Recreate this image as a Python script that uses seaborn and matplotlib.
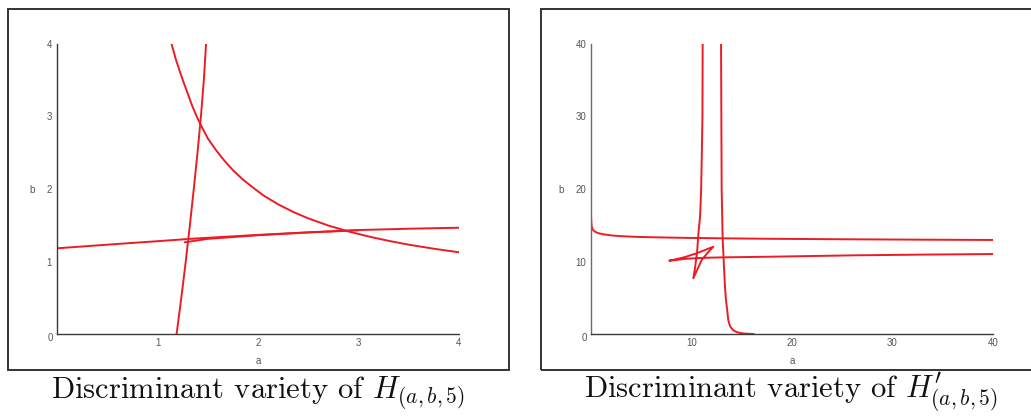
import matplotlib
matplotlib.use("Agg")
import matplotlib.pyplot as plt
from matplotlib.patches import Rectangle
from matplotlib.ticker import MultipleLocator, FuncFormatter
import pandas as pd
import seaborn as sns

# ---------------- data: discriminant curves of H(a,b,5) ----------------
h_arc_a = [1.141, 1.18, 1.22, 1.26, 1.30, 1.35, 1.40, 1.45, 1.50, 1.58,
           1.66, 1.75, 1.85, 1.95, 2.05, 2.20, 2.35, 2.50, 2.70, 2.90,
           3.10, 3.30, 3.50, 3.75, 4.00]
h_arc_b = [3.995, 3.80, 3.63, 3.47, 3.32, 3.13, 2.97, 2.83, 2.70, 2.54,
           2.40, 2.26, 2.13, 2.02, 1.915, 1.789, 1.684, 1.595, 1.496, 1.415,
           1.345, 1.285, 1.232, 1.176, 1.127]

h_steep_a = [1.190, 1.237, 1.281, 1.322, 1.361, 1.398, 1.432, 1.461, 1.483]
h_steep_b = [0.000, 0.500, 1.000, 1.500, 2.000, 2.500, 3.000, 3.500, 4.000]

h_flat_a = [0.0, 0.5, 1.0, 1.3, 1.5, 2.0, 2.5, 3.0, 3.5, 4.0]
h_flat_b = [1.182, 1.232, 1.280, 1.310, 1.327, 1.367, 1.403, 1.434, 1.452, 1.466]

h_cusp_a = [1.27, 1.50, 2.00, 2.50, 3.00]
h_cusp_b = [1.265, 1.312, 1.362, 1.400, 1.430]

# ---------------- data: discriminant curves of H'(a,b,5) ----------------
p_top_a = [0.00, 0.03, 0.07, 0.18, 0.40, 0.75, 1.23, 2.00, 2.89, 4.50,
           6.20, 9.00, 12.84, 18.00, 26.10, 33.00, 40.00]
p_top_b = [16.40, 15.40, 14.80, 14.40, 14.10, 13.90, 13.75, 13.60, 13.50,
           13.40, 13.34, 13.27, 13.20, 13.13, 13.06, 13.01, 12.97]

p_loop_a = [11.11, 11.09, 11.03, 10.96, 10.86, 10.69, 10.55, 10.35, 10.18,
            11.01, 11.60, 12.17,
            10.51, 9.20, 7.79,
            9.50, 11.50, 13.17, 17.80, 26.10, 33.00, 40.00]
p_loop_b = [40.00, 30.00, 25.00, 20.00, 16.30, 13.90, 11.20, 9.10, 7.68,
            10.20, 11.20, 12.04,
            11.13, 10.55, 10.11,
            10.38, 10.52, 10.57, 10.66, 10.85, 10.95, 11.03]

p_wall_a = [12.94, 12.97, 13.00, 13.10, 13.23, 13.33, 13.43, 13.55, 13.66,
            13.75, 13.85, 14.00, 14.16, 14.38, 14.60, 14.90, 15.20, 15.70,
            16.20]
p_wall_b = [40.00, 30.00, 20.00, 13.20, 9.30, 6.50, 4.69, 3.30, 1.93,
            1.45, 1.05, 0.75, 0.52, 0.34, 0.22, 0.13, 0.07, 0.03, 0.00]

left_curves = [(h_arc_a, h_arc_b), (h_steep_a, h_steep_b),
               (h_flat_a, h_flat_b), (h_cusp_a, h_cusp_b)]
right_curves = [(p_top_a, p_top_b), (p_loop_a, p_loop_b), (p_wall_a, p_wall_b)]

left_caption = r"Discriminant variety of $H_{(a,b,5)}$"
right_caption = r"Discriminant variety of $H^{\prime}_{(a,b,5)}$"

# ---------------- styling ----------------
sns.set_style("white")
plt.rcParams["font.family"] = ["Liberation Sans", "DejaVu Sans"]
plt.rcParams["mathtext.fontset"] = "cm"

W, H = 1031, 417
fig = plt.figure(figsize=(W / 100, H / 100), dpi=100)
fig.patch.set_facecolor("white")

CURVE = "#ec1c24"
AXIS = "#3a3a3a"
LABEL = "#555555"


def px_rect(x0, y0, x1, y1):
    """Figure-fraction rectangle from top-left pixel coords."""
    return [x0 / W, 1 - y1 / H, (x1 - x0) / W, (y1 - y0) / H]


def draw_panel(rect, curves, lim, major, minor, ylabel_x, spine_color):
    ax = fig.add_axes(rect)
    for xs, ys in curves:
        df = pd.DataFrame({"a": xs, "b": ys})
        sns.lineplot(data=df, x="a", y="b", sort=False, estimator=None,
                     color=CURVE, lw=1.4, ax=ax)
    ax.set_xlim(0, lim)
    ax.set_ylim(0, lim)
    for side in ("top", "right"):
        ax.spines[side].set_visible(False)
    ax.spines["bottom"].set_color(AXIS)
    ax.spines["left"].set_color(spine_color)
    for side in ("left", "bottom"):
        ax.spines[side].set_linewidth(1.0)
    ax.xaxis.set_major_locator(MultipleLocator(major))
    ax.yaxis.set_major_locator(MultipleLocator(major))
    ax.xaxis.set_minor_locator(MultipleLocator(minor))
    ax.yaxis.set_minor_locator(MultipleLocator(minor))
    fmt = FuncFormatter(lambda v, p: "" if abs(v) < 1e-9 else f"{v:g}")
    ax.xaxis.set_major_formatter(fmt)
    ax.yaxis.set_major_formatter(fmt)
    ax.tick_params(axis="x", which="major", direction="in", length=3,
                   width=0.8, color=AXIS, labelsize=7, labelcolor=LABEL, pad=3)
    ax.tick_params(axis="x", which="minor", direction="in", length=2,
                   width=0.8, color=AXIS)
    ax.tick_params(axis="y", which="major", direction="out", length=3,
                   width=0.8, color=AXIS, labelsize=7, labelcolor=LABEL, pad=0.5)
    ax.tick_params(axis="y", which="minor", direction="out", length=1.5,
                   width=0.8, color=AXIS)
    ax.annotate("0", xy=(0, 0), xytext=(-5, -3), textcoords="offset points",
                ha="center", va="center", fontsize=7, color=LABEL)
    ax.set_xlabel("a", fontsize=7, color=LABEL)
    ax.set_ylabel("b", fontsize=7, color=LABEL, rotation=0)
    ax.xaxis.label.set_va("center")
    ax.yaxis.label.set_va("center")
    ax.yaxis.label.set_ha("center")
    ax.xaxis.set_label_coords(0.5, -27 / 290)
    ax.yaxis.set_label_coords(ylabel_x, 0.4966)
    ax.grid(False)
    return ax


draw_panel(px_rect(57, 44, 459, 334), left_curves, 4, 1, 0.2, -0.0622, AXIS)
draw_panel(px_rect(591, 44, 993, 334), right_curves, 40, 10, 2, -0.0754, "#6a6a6a")

# outer frames around each plot
for x0, x1 in ((8, 509), (541, 1040)):
    r = px_rect(x0, 9, x1, 370)
    fig.patches.append(Rectangle((r[0], r[1]), r[2], r[3], transform=fig.transFigure,
                                 fill=False, edgecolor="#333333", lw=1.4))

# captions
for cx, txt in ((257.5, left_caption), (790.8, right_caption)):
    fig.text(cx / W, 1 - 398 / H, txt, ha="center", va="baseline",
             fontsize=22, family="cmr10", color="#111111")

fig.savefig("out.png", dpi=100, facecolor="white")
